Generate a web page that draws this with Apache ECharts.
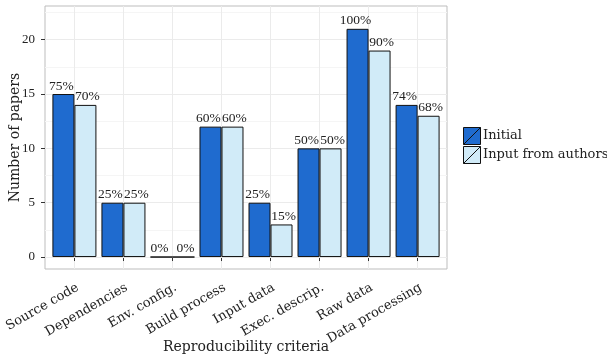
<!DOCTYPE html>
<html><head><meta charset="utf-8">
<script src="https://cdn.jsdelivr.net/npm/echarts@6/dist/echarts.min.js"></script>
<style>html,body{margin:0;padding:0;background:#fff}#c{width:607px;height:359px}</style>
</head><body><div id="c"></div>
<script>
const categories = ['Source code','Dependencies','Env. config.','Build process','Input data','Exec. descrip.','Raw data','Data processing'];
const initialValues = [15,5,0,12,5,10,21,14];
const authorValues = [14,5,0,12,3,10,19,13];
const initialPct = ['75%','25%','0%','60%','25%','50%','100%','74%'];
const authorPct = ['70%','25%','0%','60%','15%','50%','90%','68%'];
const yTicks = [0,5,10,15,20];
const yMinor = [2.5,7.5,12.5,17.5,22.5];
const xTicks = [1,2,3,4,5,6,7,8];

const FONT = 'DejaVu Serif';
const NFONT = 'Liberation Serif';
const chart = echarts.init(document.getElementById('c'), null, {renderer:'canvas'});
const legendIcon = 'path://M0,0L18,0L18,18L0,18ZM0,18L18,0';
function mk(name, vals, pcts, color, dx){
  return {
    name, type:'bar', xAxisIndex:0, yAxisIndex:0,
    data: vals.map((v,i)=>[xTicks[i], v]),
    barWidth: 22, barGap:'0%',
    itemStyle:{color, borderColor:'#111', borderWidth:1},
    label:{show:true, position:'top', distance:1, offset:[dx,0], fontFamily:NFONT, fontSize:13.5, color:'#222',
      formatter:(p)=>pcts[p.dataIndex]},
    z:3
  };
}
chart.setOption({
  animation:false,
  textStyle:{fontFamily:FONT},
  grid:{left:45, top:6, width:402, height:263, show:true, borderColor:'#bdbdbd', borderWidth:1, containLabel:false, outerBoundsMode:'none'},
  legend:{orient:'vertical', left:463, top:127, itemWidth:18, itemHeight:17, itemGap:1, padding:0,
    icon:legendIcon, textStyle:{fontFamily:FONT, fontSize:13, color:'#222', padding:[0,0,0,-3]},
    itemStyle:{borderColor:'#111', borderWidth:1},
    data:['Initial','Input from authors']},
  xAxis:{type:'value', min:0.4, max:8.6,
    name:'Reproducibility criteria', nameLocation:'middle', nameGap:71, nameMoveOverlap:false,
    nameTextStyle:{fontFamily:FONT, fontSize:14, color:'#222', verticalAlign:'top'},
    axisLine:{show:false},
    axisTick:{show:true, customValues:xTicks, length:4, lineStyle:{color:'#333'}},
    axisLabel:{customValues:xTicks, rotate:30, fontFamily:FONT, fontSize:13, color:'#222', margin:12,
      align:'right', verticalAlign:'top',
      formatter:(v)=>categories[Math.round(v)-1]},
    splitLine:{show:true, lineStyle:{color:'#ebebeb', width:1}}},
  yAxis:[{type:'value', min:-1.1, max:23.1,
    name:'Number of papers', nameLocation:'middle', nameGap:23, nameRotate:90, nameMoveOverlap:false,
    nameTextStyle:{fontFamily:FONT, fontSize:14, color:'#222'},
    axisLine:{show:false},
    axisTick:{show:true, customValues:yTicks, length:4, lineStyle:{color:'#333'}},
    axisLabel:{customValues:yTicks, fontFamily:NFONT, fontSize:13, color:'#222', margin:10},
    splitLine:{show:true, lineStyle:{color:'#ebebeb', width:1}}, z:1},
   {type:'value', min:-1.1, max:23.1, position:'left',
    axisLine:{show:false}, axisLabel:{show:false},
    axisTick:{show:false, customValues:yMinor},
    splitLine:{show:true, lineStyle:{color:'#f5f5f5', width:1}}, z:0}],
  series:[mk('Initial', initialValues, initialPct, '#1f6bcf', -2), mk('Input from authors', authorValues, authorPct, '#d1ebf8', 2)]
});
</script></body></html>
